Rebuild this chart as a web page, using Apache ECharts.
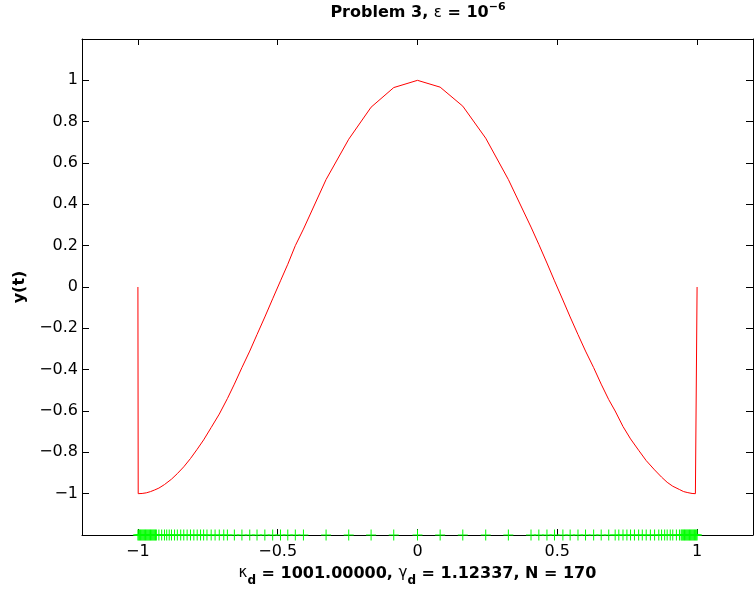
<!DOCTYPE html>
<html>
<head>
<meta charset="utf-8">
<script src="https://cdn.jsdelivr.net/npm/echarts@6/dist/echarts.min.js"></script>
<style>html,body{margin:0;padding:0;background:#fff;}#c{width:754px;height:593px;}</style>
</head>
<body>
<div id="c"></div>
<script>
// ---- data ----
var xTickValues = [-1, -0.5, 0, 0.5, 1];
var yTickValues = [-1, -0.8, -0.6, -0.4, -0.2, 0, 0.2, 0.4, 0.6, 0.8, 1];

// mesh points (green markers), left half
var meshLeft = [-1, -0.997, -0.994, -0.991, -0.988, -0.985, -0.982, -0.979, -0.976, -0.973,
  -0.970, -0.967, -0.964, -0.961, -0.958, -0.955, -0.952, -0.949, -0.946, -0.943, -0.940,
  -0.937, -0.934, -0.925, -0.915, -0.905, -0.897, -0.888, -0.880, -0.869, -0.859, -0.847,
  -0.836, -0.824, -0.812, -0.800, -0.788, -0.776, -0.765, -0.753, -0.738, -0.724, -0.709,
  -0.693, -0.680, -0.655, -0.628, -0.600, -0.574, -0.546, -0.518, -0.490, -0.464, -0.437,
  -0.408, -0.327, -0.246, -0.166, -0.085];
// mesh points (green markers), right half
var meshRight = [0, 0.081, 0.162, 0.244, 0.325, 0.406, 0.434, 0.463, 0.490, 0.520, 0.546,
  0.574, 0.601, 0.630, 0.657, 0.684, 0.707, 0.720, 0.735, 0.749, 0.762, 0.776, 0.791, 0.804,
  0.818, 0.833, 0.848, 0.863, 0.873, 0.884, 0.893, 0.904, 0.913, 0.926, 0.937, 0.943, 0.946,
  0.949, 0.952, 0.955, 0.958, 0.961, 0.964, 0.967, 0.970, 0.973, 0.976, 0.979, 0.982, 0.985,
  0.988, 0.991, 0.994, 0.997, 1.0];
var meshLevel = -1.2;

// solution curve y(t)
var curveX = [-1, -0.999, -0.994, -0.985, -0.97, -0.955, -0.94, -0.925, -0.905, -0.88, -0.859,
  -0.836, -0.812, -0.788, -0.765, -0.738, -0.709, -0.68, -0.655, -0.628, -0.6, -0.574, -0.546,
  -0.518, -0.49, -0.464, -0.437, -0.408, -0.327, -0.246, -0.166, -0.085, 0, 0.081, 0.162,
  0.244, 0.325, 0.406, 0.434, 0.463, 0.49, 0.52, 0.546, 0.574, 0.601, 0.63, 0.657, 0.684,
  0.707, 0.735, 0.762, 0.791, 0.818, 0.848, 0.873, 0.893, 0.913, 0.937, 0.952, 0.967, 0.982,
  0.994, 0.999, 1];
var curveY = [0, -1.0, -1.0, -0.999, -0.996, -0.99, -0.982, -0.973, -0.956, -0.93, -0.903,
  -0.87, -0.83, -0.785, -0.74, -0.68, -0.615, -0.54, -0.47, -0.39, -0.31, -0.23, -0.145,
  -0.057, 0.03, 0.11, 0.2, 0.28, 0.52, 0.715, 0.87, 0.965, 1.0, 0.967, 0.875,
  0.72, 0.52, 0.29, 0.206, 0.116, 0.03, -0.063, -0.145, -0.23, -0.31, -0.39, -0.47, -0.545,
  -0.6, -0.675, -0.735, -0.79, -0.84, -0.885, -0.92, -0.945, -0.964, -0.98, -0.99, -0.995, -0.999,
  -1.0, -1.0, 0];

// ---- build ----
var FONT = 'DejaVu Sans';
var curveData = curveX.map(function (x, i) { return [x, curveY[i]]; });
var meshData = meshLeft.concat(meshRight).map(function (x) { return [x, meshLevel]; });
function fmt(v) {
  if (Math.abs(v) > 1.05) return '';
  return String(v).replace('-', '\u2212');
}
var axisLineStyle = { color: '#000', width: 1 };

var chart = echarts.init(document.getElementById('c'), null, { renderer: 'canvas' });
chart.setOption({
  animation: false,
  backgroundColor: '#fff',
  title: {
    text: '{b|Problem 3, }{e|\u03b5}{b| = 10}{s|\u22126}',
    left: 418, top: 2, textAlign: 'center', padding: 0,
    textStyle: {
      rich: {
        b: { fontFamily: FONT, fontWeight: 'bold', fontSize: 16, lineHeight: 16, verticalAlign: 'bottom', color: '#000' },
        e: { fontFamily: FONT, fontWeight: 'normal', fontSize: 15, lineHeight: 16, verticalAlign: 'bottom', color: '#000' },
        s: { fontFamily: FONT, fontWeight: 'bold', fontSize: 11, verticalAlign: 'bottom', padding: [0, 0, 8, 0], color: '#000' }
      }
    }
  },
  grid: { left: 82, top: 39, width: 671, height: 496, containLabel: false },
  xAxis: [{
    type: 'value', position: 'bottom', min: -1.2, max: 1.2, interval: 0.1,
    splitLine: { show: false },
    axisLine: { show: true, onZero: false, lineStyle: axisLineStyle },
    axisTick: { show: true, inside: true, length: 6, customValues: xTickValues, lineStyle: axisLineStyle },
    axisLabel: { customValues: xTickValues, formatter: fmt, fontFamily: FONT, fontSize: 16, color: '#000', margin: 9 },
    name: '{k|\u03ba}{d|d}{b| = 1001.00000, }{k|\u03b3}{d|d}{b| = 1.12337, N = 170}',
    nameLocation: 'middle', nameGap: 31,
    nameTextStyle: {
      rich: {
        b: { fontFamily: FONT, fontWeight: 'bold', fontSize: 16, lineHeight: 16, verticalAlign: 'top', color: '#000' },
        k: { fontFamily: FONT, fontWeight: 'normal', fontSize: 15, lineHeight: 16, verticalAlign: 'top', color: '#000' },
        d: { fontFamily: FONT, fontWeight: 'bold', fontSize: 12, verticalAlign: 'top', padding: [9, 0, 0, 0], color: '#000' }
      }
    }
  }, {
    type: 'value', position: 'top', min: -1.2, max: 1.2, interval: 0.1,
    splitLine: { show: false },
    axisLine: { show: true, onZero: false, lineStyle: axisLineStyle },
    axisTick: { show: true, inside: true, length: 6, customValues: xTickValues, lineStyle: axisLineStyle },
    axisLabel: { show: false }
  }],
  yAxis: [{
    type: 'value', position: 'left', min: -1.2, max: 1.2, interval: 0.2,
    splitLine: { show: false },
    axisLine: { show: true, onZero: false, lineStyle: axisLineStyle },
    axisTick: { show: true, inside: true, length: 7, customValues: yTickValues, lineStyle: axisLineStyle },
    axisLabel: { customValues: yTickValues, formatter: fmt, fontFamily: FONT, fontSize: 16, color: '#000', margin: 4 },
    name: 'y(t)', nameLocation: 'middle', nameGap: 48,
    nameTextStyle: { fontFamily: FONT, fontWeight: 'bold', fontSize: 16, color: '#000' }
  }, {
    type: 'value', position: 'right', min: -1.2, max: 1.2, interval: 0.2,
    splitLine: { show: false },
    axisLine: { show: true, onZero: false, lineStyle: axisLineStyle },
    axisTick: { show: true, inside: true, length: 7, customValues: yTickValues, lineStyle: axisLineStyle },
    axisLabel: { show: false }
  }],
  series: [{
    type: 'line', xAxisIndex: 0, yAxisIndex: 0,
    data: curveData, showSymbol: false, symbol: 'none',
    lineStyle: { color: '#ff0000', width: 1 }, itemStyle: { color: '#ff0000' },
    clip: false, z: 3
  }, {
    type: 'scatter', xAxisIndex: 0, yAxisIndex: 0,
    data: meshData,
    symbol: 'path://M4.5,0H5.5V4.5H10V5.5H5.5V10H4.5V5.5H0V4.5H4.5Z',
    symbolSize: [10, 11], symbolKeepAspect: false,
    itemStyle: { color: '#00ff00', opacity: 1 },
    clip: false, z: 4
  }]
});
</script>
</body>
</html>
